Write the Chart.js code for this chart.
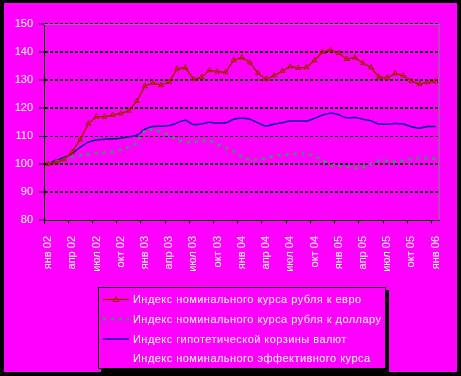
<!DOCTYPE html>
<html>
<head>
<meta charset="utf-8">
<script src="https://cdn.jsdelivr.net/npm/chart.js@4/dist/chart.umd.min.js"></script>
<style>
  html, body { margin: 0; padding: 0; background: #000; }
  canvas { display: block; }
</style>
</head>
<body>
<canvas id="grafico" width="461" height="376"></canvas>
<script>

// #### dati (indice, gen 2002 = 100)
var mesi = ['янв', 'фев', 'мар', 'апр', 'май', 'июн', 'июл', 'авг', 'сен', 'окт', 'ноя', 'дек'];
var anni = ['02', '03', '04', '05', '06'];

var euro = [100, 100.6, 101.6, 104.3, 108.8, 114.4, 116.9, 116.9, 117.5, 118, 119, 122.5,
  127.8, 129, 128.1, 129.3, 134, 134.4, 130.3, 131, 133.5, 133, 132.7, 137.1,
  138, 136.2, 132.4, 130.3, 131.6, 133.2, 134.8, 134.3, 134.5, 137, 140, 140.8,
  139.6, 137.5, 138, 136, 134.5, 131, 130.8, 132.3, 131.6, 129.6, 128.5, 129.2,
  129.5];

var dollaro = [100, 101, 101.8, 102.5, 103.1, 103.5, 103.8, 104.1, 104.3, 105, 106, 107.4,
  112.2, 112.3, 111.5, 110.3, 108.5, 107.8, 107.7, 108.2, 108.4, 107, 105.8, 104.5,
  102.5, 101.5, 101.6, 102, 103, 103.3, 103.4, 103.6, 103.8, 102.8, 101.3, 99.5,
  99.3, 99, 98.6, 98.8, 100, 101.3, 101.2, 100.7, 101.2, 101.8, 102.1, 102,
  102];

var paniere = [100, 101.4, 102.3, 103.8, 106, 107.8, 108.6, 108.8, 109, 109.2, 109.7, 110.3,
  112.4, 113.4, 113.5, 113.7, 114.7, 115.6, 114.1, 114.3, 114.9, 114.6, 114.7, 116,
  116.3, 116, 114.7, 113.6, 114.2, 114.7, 115.4, 115.4, 115.4, 116.3, 117.5, 118.1,
  117.6, 116.5, 116.6, 116, 115.4, 114.3, 114.2, 114.5, 114.3, 113.3, 112.8, 113.4,
  113.4];

// la quarta serie e' disegnata nel colore dello sfondo: non si vede
var effettivo = [];

var titoli = [
  'Индекс номинального курса рубля к евро',
  'Индекс номинального курса рубля к доллару',
  'Индекс гипотетической корзины валют',
  'Индекс номинального эффективного курса'
];

var tickY = { min: 80, max: 150, passo: 10 };

// etichette mensili: янв 02 ... янв 06
var etichette = [];
for (var a = 0; a < anni.length; a++) {
  for (var m = 0; m < mesi.length; m++) {
    if (a === anni.length - 1 && m > 0) break;
    etichette.push(mesi[m] + ' ' + anni[a]);
  }
}

var FONT = '"Liberation Sans", Arial, sans-serif';
var MAGENTA = '#ff00ff';


// #### sfondo magenta con bordo nero
var sfondo = {
  id: 'sfondo',
  beforeDraw: function(chart) {
    var ctx = chart.ctx;
    ctx.save();
    ctx.fillStyle = '#000';
    ctx.fillRect(0, 0, chart.width, chart.height);
    ctx.fillStyle = MAGENTA;
    ctx.fillRect(4, 3, 453, 369);
    ctx.restore();
  },
  beforeDatasetsDraw: function(chart) {
    // bordo grigio dell'area del grafico (alto e destra)
    var a = chart.chartArea;
    var ctx = chart.ctx;
    ctx.save();
    ctx.fillStyle = '#808080';
    ctx.fillRect(a.left, a.top, a.right - a.left, 1);
    ctx.fillRect(a.right - 1, a.top, 1, a.bottom - a.top);
    ctx.restore();
  }
};


// #### legenda in un riquadro, testo allineato a sinistra
var legenda = {
  id: 'legenda',
  afterDraw: function(chart) {
    var ctx = chart.ctx;
    var x0 = 98, y0 = 287, w = 288, h = 82;
    ctx.save();
    ctx.setLineDash([]);
    // ombra + cornice nera
    ctx.fillStyle = '#000';
    ctx.fillRect(x0 + 3, y0 + 3, w, h);
    ctx.fillRect(x0, y0, w, h);
    ctx.fillStyle = MAGENTA;
    ctx.fillRect(x0 + 1, y0 + 1, w - 2, h - 2);

    ctx.font = '11px ' + FONT;
    ctx.letterSpacing = '0.45px';
    ctx.textBaseline = 'middle';
    ctx.textAlign = 'left';

    chart.data.datasets.forEach(function(ds, i) {
      var yy = y0 + 12.5 + i * 19.8;
      ctx.save();
      ctx.strokeStyle = ds.borderColor;
      ctx.lineWidth = ds.borderWidth;
      ctx.setLineDash(ds.borderDash || []);
      ctx.beginPath();
      ctx.moveTo(103, yy);
      ctx.lineTo(129, yy);
      ctx.stroke();
      if (ds.pointRadius > 0) {
        ctx.setLineDash([]);
        ctx.lineWidth = 1;
        ctx.beginPath();
        ctx.moveTo(116, yy - 3);
        ctx.lineTo(119, yy + 2);
        ctx.lineTo(113, yy + 2);
        ctx.closePath();
        ctx.stroke();
      }
      ctx.restore();
      ctx.fillStyle = '#fff';
      ctx.fillText(ds.label, 133, yy + 0.5);
    });
    ctx.restore();
  }
};


// #### grafico
var ctx = document.getElementById('grafico');

var chart = new Chart(ctx, {
  type: 'line',
  data: {
    labels: etichette,
    datasets: [{
      label: titoli[0],
      data: euro,
      borderColor: '#a02800',
      borderWidth: 1.5,
      pointStyle: 'triangle',
      pointRadius: 3,
      pointBorderWidth: 1,
      pointBorderColor: '#a02800',
      pointBackgroundColor: 'rgba(0,0,0,0)',
      tension: 0
    },
    {
      label: titoli[1],
      data: dollaro,
      borderColor: '#2e9e5e',
      borderWidth: 2.5,
      borderDash: [3, 5],
      pointRadius: 0,
      tension: 0
    },
    {
      label: titoli[2],
      data: paniere,
      borderColor: '#0000a0',
      borderWidth: 1.5,
      pointRadius: 0,
      cubicInterpolationMode: 'monotone'
    },
    {
      label: titoli[3],
      data: effettivo,
      borderColor: MAGENTA,
      borderWidth: 1.5,
      pointRadius: 0
    }]
  },
  options: {
    responsive: false,
    animation: false,
    events: [],
    layout: { padding: { left: 0, right: 21, top: 24, bottom: 0 } },
    plugins: {
      legend: { display: false },
      tooltip: { enabled: false }
    },
    scales: {
      x: {
        type: 'category',
        offset: true,
        afterFit: function(scale) { scale.height = 156; },
        grid: {
          offset: true,
          drawOnChartArea: false,
          tickLength: 4,
          tickColor: function(c) { return c.index % 3 === 0 ? '#000' : 'rgba(0,0,0,0)'; }
        },
        border: { color: '#000', width: 1 },
        ticks: {
          autoSkip: false,
          minRotation: 90,
          maxRotation: 90,
          padding: 12,
          color: '#fff',
          font: { family: FONT, size: 11 },
          callback: function(v, i) { return i % 3 === 0 ? this.getLabelForValue(v) : ''; }
        }
      },
      y: {
        min: tickY.min,
        max: tickY.max,
        afterFit: function(scale) { scale.width = 44; },
        grid: {
          color: function(c) { return c.tick && c.tick.value === tickY.min ? 'rgba(0,0,0,0)' : '#000'; },
          lineWidth: function(c) { return c.tick && c.tick.value === 110 ? 1 : 2; },
          tickLength: 5,
          tickColor: '#000',
          tickWidth: 1
        },
        border: { color: '#000', width: 1, dash: [3, 2] },
        ticks: {
          stepSize: tickY.passo,
          padding: 6,
          color: '#fff',
          font: { family: FONT, size: 11 }
        }
      }
    }
  },
  plugins: [sfondo, legenda]
});

</script>
</body>
</html>
